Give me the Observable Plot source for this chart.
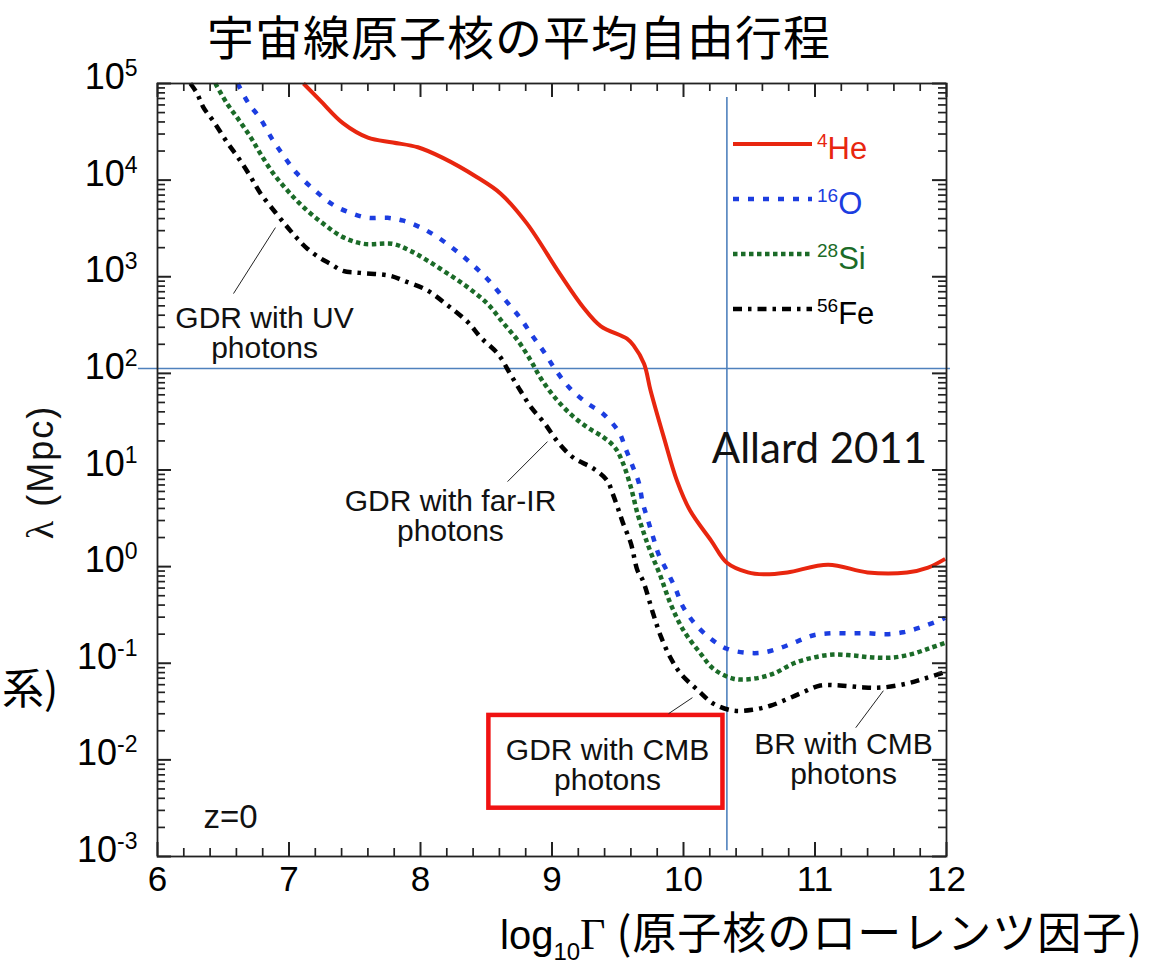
<!DOCTYPE html>
<html>
<head>
<meta charset="utf-8">
<script src="https://cdn.jsdelivr.net/npm/d3@7"></script>
<script src="https://cdn.jsdelivr.net/npm/@observablehq/plot@0.6"></script>
<style>
  body { margin: 0; background: #fff; }
  #page { position: relative; width: 1170px; height: 964px; overflow: hidden; background: #fff; font-family: "Liberation Sans", Arial, sans-serif; }
  #chart { position: absolute; left: 0; top: 0; }
  #title { position: absolute; left: 0; width: 1038px; top: 0px; text-align: center; font-family: "Noto Sans CJK JP", sans-serif; font-size: 47px; letter-spacing: 1px; line-height: normal; color: #000; white-space: nowrap; }
  #xlabel { position: absolute; left: 500px; top: 898px; white-space: nowrap; line-height: normal; color: #000; }
  #xlabel .lg { font-family: "Liberation Sans", Arial, sans-serif; font-size: 40px; }
  #xlabel .sub { font-family: "Liberation Sans", Arial, sans-serif; font-size: 24px; position: relative; top: 11px; }
  #xlabel .gam { font-family: "Liberation Serif", serif; font-size: 44px; }
  #xlabel .jp { font-family: "Noto Sans CJK JP", sans-serif; font-size: 44px; letter-spacing: 1px; }
  #ylabel { position: absolute; left: 40px; top: 472px; transform: translate(-50%, -50%) rotate(-90deg); white-space: nowrap; font-size: 36px; line-height: 1; color: #111; letter-spacing: 2px; }
  #ylabel .lam { font-family: "Liberation Serif", serif; font-size: 38px; }
  #stray { position: absolute; left: 2px; top: 665px; font-family: "Noto Sans CJK JP", sans-serif; font-size: 42px; line-height: 1; color: #000; }
  #legend { position: absolute; left: 0; top: 0; pointer-events: none; }
</style>
</head>
<body>
<div id="page">
  <div id="chart"></div>
  <div id="title">宇宙線原子核の平均自由行程</div>
  <div id="ylabel"><span class="lam">λ</span> (Mpc)</div>
  <div id="stray">系)</div>
  <div id="xlabel"><span class="lg">log</span><span class="sub">10</span><span class="gam">Γ</span><span class="jp"> (原子核のローレンツ因子)</span></div>
</div>
<script>
// ---------- data (log10 Γ, log10 λ[Mpc]) ----------
const gammaHe = [7.11,7.24,7.41,7.60,7.79,7.98,8.17,8.43,8.61,8.81,9.06,9.24,9.37,9.57,9.62,9.70,9.75,9.85,9.95,10.05,10.21,10.33,10.49,10.61,10.79,11.10,11.40,11.70,11.86,11.99];
const logLamHe = [5.00,4.82,4.59,4.44,4.39,4.34,4.23,4.03,3.86,3.55,3.03,2.68,2.49,2.36,2.29,2.10,1.82,1.34,0.89,0.58,0.27,0.04,-0.06,-0.08,-0.06,0.02,-0.06,-0.06,-0.01,0.08];

const gammaO = [6.61,6.69,6.78,6.87,6.96,7.06,7.20,7.34,7.47,7.60,7.75,7.87,8.00,8.13,8.27,8.40,8.52,8.65,8.76,8.85,8.94,9.03,9.14,9.27,9.39,9.51,9.56,9.61,9.66,9.69,9.73,9.77,9.81,9.88,9.94,9.99,10.08,10.21,10.33,10.47,10.60,10.74,10.87,10.99,11.12,11.27,11.40,11.54,11.67,11.80,11.94,11.99];
const logLamO = [5.00,4.80,4.64,4.43,4.25,4.07,3.89,3.74,3.66,3.61,3.61,3.58,3.51,3.41,3.27,3.12,2.96,2.75,2.57,2.39,2.22,2.03,1.84,1.69,1.58,1.39,1.22,1.05,0.87,0.66,0.48,0.30,0.13,-0.06,-0.23,-0.40,-0.58,-0.75,-0.85,-0.89,-0.89,-0.84,-0.77,-0.71,-0.69,-0.69,-0.69,-0.70,-0.68,-0.63,-0.56,-0.53];

const gammaSi = [6.44,6.53,6.62,6.71,6.78,6.88,6.99,7.11,7.26,7.41,7.57,7.79,7.92,8.05,8.21,8.36,8.51,8.63,8.74,8.84,8.91,9.01,9.14,9.27,9.39,9.48,9.54,9.60,9.65,9.70,9.75,9.82,9.90,10.00,10.13,10.23,10.38,10.53,10.68,10.84,10.99,11.14,11.29,11.44,11.60,11.75,11.88,11.99];
const logLamSi = [5.00,4.79,4.62,4.44,4.28,4.07,3.89,3.72,3.55,3.41,3.34,3.34,3.27,3.17,3.03,2.89,2.72,2.52,2.34,2.13,1.96,1.77,1.58,1.44,1.34,1.23,1.07,0.82,0.55,0.34,0.15,-0.08,-0.38,-0.66,-0.90,-1.06,-1.16,-1.16,-1.11,-1.00,-0.94,-0.91,-0.92,-0.94,-0.94,-0.90,-0.84,-0.79];

const gammaFe = [6.25,6.30,6.35,6.43,6.53,6.62,6.71,6.78,6.90,6.99,7.06,7.14,7.24,7.32,7.41,7.54,7.77,7.87,8.05,8.21,8.36,8.46,8.59,8.68,8.76,8.84,8.94,9.05,9.16,9.32,9.42,9.46,9.50,9.54,9.60,9.65,9.69,9.77,9.83,9.90,9.98,10.11,10.23,10.38,10.53,10.66,10.79,10.91,11.04,11.19,11.37,11.52,11.70,11.83,11.97];
const logLamFe = [5.00,4.90,4.75,4.60,4.39,4.22,4.03,3.87,3.66,3.51,3.40,3.29,3.19,3.13,3.06,3.04,3.01,2.96,2.86,2.70,2.53,2.37,2.20,2.00,1.82,1.65,1.49,1.28,1.13,1.01,0.89,0.76,0.61,0.45,0.24,-0.04,-0.14,-0.49,-0.73,-0.94,-1.11,-1.28,-1.42,-1.49,-1.48,-1.44,-1.37,-1.30,-1.23,-1.23,-1.25,-1.25,-1.21,-1.16,-1.10];

const nuclei = ["4He", "16O", "28Si", "56Fe"];
const nucleusMass = ["4", "16", "28", "56"];
const nucleusSymbol = ["He", "O", "Si", "Fe"];

// ticks
const xMajorTicks = [6, 7, 8, 9, 10, 11, 12];
const xMinorTicks = d3.range(6, 12.0001, 0.2).filter(v => Math.abs(v - Math.round(v)) > 1e-6);
const yExponents = [-3, -2, -1, 0, 1, 2, 3, 4, 5];
const yMajorTicks = yExponents.map(e => 10 ** e);
const yMinorTicks = yExponents.slice(0, -1).flatMap(e => [2,3,4,5,6,7,8,9].map(m => m * 10 ** e));

// overlay annotations (data coordinates)
const refLineLambda = 10 ** 2.05;   // horizontal blue line
const refLineGamma = 10.33;          // vertical blue line
const annotations = [
  {gamma: 6.814, logLam: 2.418, text: "GDR with UV\nphotons"},
  {gamma: 8.228, logLam: 0.524, text: "GDR with far-IR\nphotons"},
  {gamma: 9.422, logLam: -2.06, text: "GDR with CMB\nphotons"},
  {gamma: 11.217, logLam: -1.992, text: "BR with CMB\nphotons"}
];
const leaderFrom = [[6.897, 3.509], [8.966, 1.294], [10.068, -1.356], [11.52, -1.284]];
const leaderTo   = [[6.578, 2.826], [8.662, 0.880], [9.886, -1.522], [11.31, -1.667]];
const redBox = {g1: 8.52, g2: 10.30, l1: -1.54, l2: -2.50};

// ---------- build ----------
const series = [
  {name: nuclei[0], g: gammaHe, l: logLamHe, color: "#e8260f", dash: null, w: 4},
  {name: nuclei[1], g: gammaO, l: logLamO, color: "#1c3de0", dash: "6,9", w: 4.5},
  {name: nuclei[2], g: gammaSi, l: logLamSi, color: "#1b6b28", dash: "4.5,3.5", w: 4.5},
  {name: nuclei[3], g: gammaFe, l: logLamFe, color: "#000000", dash: "9,6,3.5,6", w: 4.5}
];
const rows = series.map(s => s.g.map((g, i) => ({nucleus: s.name, gamma: g, lambda: 10 ** s.l[i]})));

const W = 1170, H = 964, mL = 157, mR = 224, mT = 83, mB = 108;
const fw = W - mL - mR, fh = H - mT - mB;
const tickCol = "#222";
const [gMin, gMax] = [6, 12], [eMin, eMax] = [-3, 5];
const gLen = px => px * (gMax - gMin) / fw;     // pixel length -> Γ units
const eLen = px => px * (eMax - eMin) / fh;     // pixel length -> decades

function xTicks(ticks, len, sw) {
  return [
    Plot.ruleX(ticks, {x: d => d, y1: 10 ** eMin, y2: 10 ** (eMin + eLen(len)), stroke: tickCol, strokeWidth: sw}),
    Plot.ruleX(ticks, {x: d => d, y1: 10 ** eMax, y2: 10 ** (eMax - eLen(len)), stroke: tickCol, strokeWidth: sw})
  ];
}
function yTicks(ticks, len, sw) {
  return [
    Plot.ruleY(ticks, {y: d => d, x1: gMin, x2: gMin + gLen(len), stroke: tickCol, strokeWidth: sw}),
    Plot.ruleY(ticks, {y: d => d, x1: gMax, x2: gMax - gLen(len), stroke: tickCol, strokeWidth: sw})
  ];
}

const marks = [
  // reference blue lines
  Plot.ruleY([refLineLambda], {x1: 5.855, x2: 12.03, stroke: "#4f81bd", strokeWidth: 1.6}),
  Plot.ruleX([refLineGamma], {y1: 10 ** 4.855, y2: 10 ** -2.94, stroke: "#4f81bd", strokeWidth: 1.6}),
  // curves
  ...series.map((s, k) => Plot.line(rows[k], {x: "gamma", y: "lambda", stroke: s.color, strokeWidth: s.w, strokeDasharray: s.dash, curve: "catmull-rom", strokeLinecap: "butt"})),
  // frame & inward ticks
  Plot.frame({stroke: tickCol, strokeWidth: 1.8}),
  ...xTicks(xMajorTicks, 14, 2),
  ...xTicks(xMinorTicks, 8, 1.7),
  ...yTicks(yMajorTicks, 14, 2),
  ...yTicks(yMinorTicks, 8, 1.7),
  // tick labels
  Plot.axisX(xMajorTicks, {anchor: "bottom", tickSize: 0, tickPadding: 10, fontSize: 35, label: null, tickFormat: d => String(d), fill: "#000"}),
  Plot.axisY(yMajorTicks, {anchor: "left", tickSize: 0, tickPadding: 20, fontSize: 36, label: null, tickFormat: d => "10^" + Math.round(Math.log10(d)), dy: -6, fill: "#000"}),
  // red box
  Plot.rect([redBox], {x1: "g1", x2: "g2", y1: d => 10 ** d.l1, y2: d => 10 ** d.l2, fill: "none", stroke: "#f01212", strokeWidth: 4.5}),
  // leader lines
  Plot.link(leaderFrom.map((f, i) => ({a: f, b: leaderTo[i]})), {x1: d => d.a[0], y1: d => 10 ** d.a[1], x2: d => d.b[0], y2: d => 10 ** d.b[1], stroke: "#222", strokeWidth: 1}),
  // annotation text
  Plot.text(annotations, {x: "gamma", y: d => 10 ** d.logLam, text: "text", fontSize: 30, lineHeight: 1.0, fill: "#111"}),
  Plot.text([{gamma: 6.555, logLam: -2.592, text: "z=0"}], {x: "gamma", y: d => 10 ** d.logLam, text: "text", fontSize: 33, fill: "#111"}),
  Plot.text([{gamma: 11.034, logLam: 1.211, text: "Allard 2011"}], {x: "gamma", y: d => 10 ** d.logLam, text: "text", fontSize: 42, fontFamily: "Lato, 'Open Sans', sans-serif", fill: "#111"})
];

const plot = Plot.plot({
  width: W, height: H,
  marginLeft: mL, marginRight: mR, marginTop: mT, marginBottom: mB,
  x: {domain: [gMin, gMax]},
  y: {type: "log", domain: [10 ** eMin, 10 ** eMax]},
  style: {fontFamily: "'Liberation Sans', Arial, sans-serif", background: "white", overflow: "visible"},
  marks
});
document.getElementById("chart").appendChild(plot);

// superscripts on y tick labels
d3.select(plot).selectAll('g[aria-label="y-axis tick label"] text').each(function() {
  const t = d3.select(this);
  const s = t.text();
  if (!s.includes("^")) return;
  const exp = s.split("^")[1];
  t.text(null);
  t.append("tspan").text("10");
  t.append("tspan").attr("font-size", 23).attr("dy", -13).text(exp);
});

// legend overlay
const leg = d3.select("#page").append("svg").attr("id", "legend").attr("width", W).attr("height", H);
const legY = [144, 199, 254, 309];
series.forEach((s, i) => {
  leg.append("line").attr("x1", 733).attr("x2", 812).attr("y1", legY[i]).attr("y2", legY[i])
    .attr("stroke", s.color).attr("stroke-width", s.w).attr("stroke-dasharray", s.dash);
  const t = leg.append("text").attr("x", 817).attr("y", legY[i] + 15).attr("fill", s.color)
    .attr("font-family", "'Liberation Sans', Arial, sans-serif").attr("font-size", 31);
  t.append("tspan").attr("font-size", 19).attr("dy", -12).text(nucleusMass[i]);
  t.append("tspan").attr("dy", 12).text(nucleusSymbol[i]);
});
</script>
</body>
</html>
